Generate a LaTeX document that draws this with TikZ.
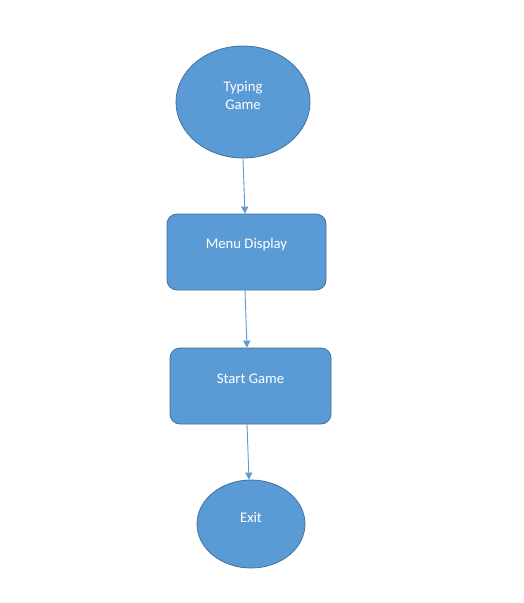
\documentclass[tikz,border=0pt]{standalone}
\usepackage{fontspec}
\setmainfont{Carlito}
\usetikzlibrary{shapes.geometric,arrows.meta}
\definecolor{fillblue}{HTML}{5B9BD5}
\definecolor{edgeblue}{HTML}{41719C}
\tikzset{
  base/.style={fill=fillblue, draw=edgeblue, line width=0.8pt, inner sep=0pt},
  ell/.style={base, ellipse},
  boxnode/.style={base, rectangle, rounded corners=10pt},
  txt/.style={text=white, font=\fontsize{14.7}{17.5}\selectfont, align=center},
  conn/.style={draw=fillblue, line width=0.9pt, -{Triangle[length=7pt,width=7pt]}}
}
\begin{document}
\begin{tikzpicture}[x=1pt,y=-1pt]
\useasboundingbox (0,0) rectangle (523,603);
\fill[white] (0,0) rectangle (523,603);
\node[ell, minimum width=134pt, minimum height=112pt] (start) at (243,102) {};
\node[txt] (starttxt) at ([yshift=6.5pt]start.center) {Typing\\Game};
\node[boxnode, minimum width=159pt, minimum height=76pt] (menu) at (246.5,252) {};
\node[txt] (menutxt) at ([yshift=7pt]menu.center) {Menu Display};
\node[boxnode, minimum width=161pt, minimum height=76pt] (game) at (250.5,386) {};
\node[txt] (gametxt) at ([yshift=7pt]game.center) {Start Game};
\node[ell, minimum width=108pt, minimum height=88pt] (exit) at (251,524) {};
\node[txt] (exittxt) at ([yshift=7pt]exit.center) {Exit};
\coordinate (a1) at (243,159);
\coordinate (a2) at (245,290);
\coordinate (a3) at (247,424);
\draw[conn] (a1) -- (menu.north -| 245,0);
\draw[conn] (a2) -- (game.north -| 247,0);
\draw[conn] (a3) -- (exit.north -| 249,0);
\end{tikzpicture}
\end{document}
